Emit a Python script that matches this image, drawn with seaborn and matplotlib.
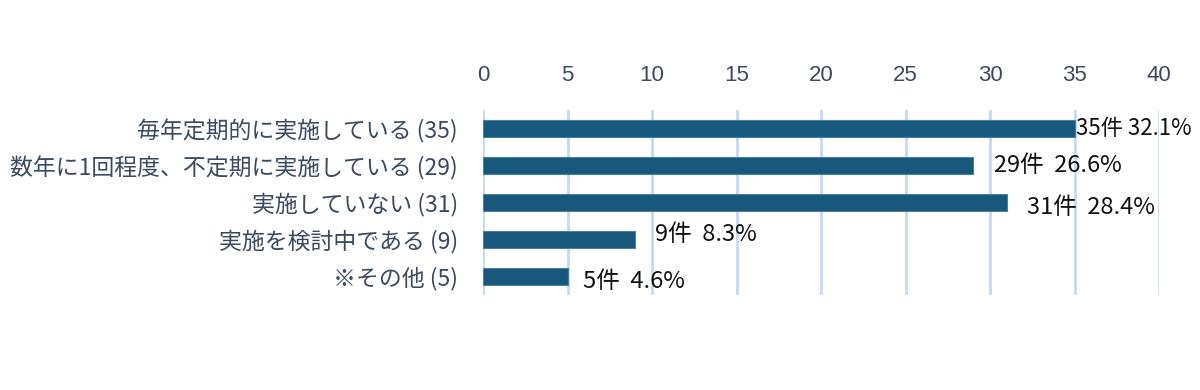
import matplotlib
matplotlib.use("Agg")
import matplotlib.pyplot as plt
import seaborn as sns
import pandas as pd

categories = ["毎年定期的に実施している (35)", "数年に1回程度、不定期に実施している (29)",
              "実施していない (31)", "実施を検討中である (9)", "※その他 (5)"]
counts = [35, 29, 31, 9, 5]
percents = ["32.1%", "26.6%", "28.4%", "8.3%", "4.6%"]
label_sep = [" ", "  ", "  ", "  ", "  "]
xticks = [0, 5, 10, 15, 20, 25, 30, 35, 40]

sns.set_theme(style="white")
plt.rcParams['font.family'] = ['Noto Sans CJK JP', 'DejaVu Sans']

df = pd.DataFrame({"cat": categories, "count": counts})

fig = plt.figure(figsize=(12, 3.9), dpi=100)
ax = fig.add_axes([0.4025, 0.2436, 0.966 - 0.4025, 0.718 - 0.2436])

sns.barplot(data=df, y="cat", x="count", orient="h", color="#18587d",
            width=0.44, ax=ax, saturation=1, edgecolor="#4a7f9e", linewidth=0.8)

ax.set_xlim(0, 40)
ax.set_xticks(xticks)
ax.xaxis.tick_top()
ax.tick_params(axis="x", length=0, pad=17, labelsize=16, labelcolor="#3b4a5c")
ax.tick_params(axis="y", length=0, pad=18, labelsize=16.5, labelcolor="#3b4a5c")
for t in ax.get_xticklabels():
    t.set_fontfamily(['Liberation Sans', 'DejaVu Sans'])
ax.set_xlabel("")
ax.set_ylabel("")
for s in ax.spines.values():
    s.set_visible(False)
ax.grid(axis="x", color="#c6d9f0", linewidth=2)
ax.set_axisbelow(True)

offsets = [0.1, 1.2, 1.2, 1.2, 0.9]
yoffs = [0.0, 0.0, 0.14, -0.13, 0.13]
for i, (c, p, sep) in enumerate(zip(counts, percents, label_sep)):
    ax.text(c + offsets[i], i + yoffs[i], f"{c}件{sep}{p}",
            va="center", ha="left", fontsize=16 if i == 0 else 17, color="#111111")

fig.savefig("out.png", dpi=100)
